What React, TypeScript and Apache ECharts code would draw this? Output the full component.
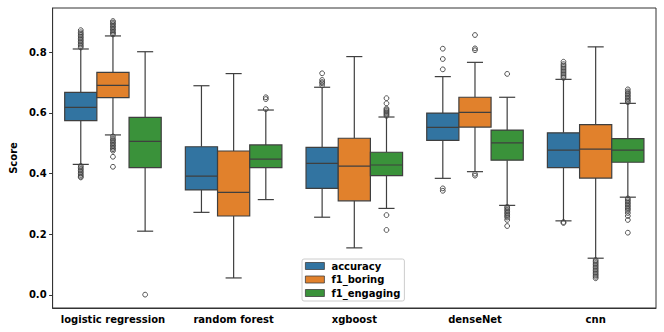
import React, { useEffect, useRef } from "react";
import * as echarts from "echarts";

const categories = ["logistic regression", "random forest", "xgboost", "denseNet", "cnn"];
const hues = ["accuracy", "f1_boring", "f1_engaging"];
const hueColors = ["#3274a1", "#e1812c", "#3a923a"];
const yTicks = [0, 0.2, 0.4, 0.6, 0.8];

// [lower whisker, q1, median, q3, upper whisker] per category
const accuracyStats = [
  [0.43, 0.574, 0.618, 0.667, 0.81],
  [0.272, 0.346, 0.391, 0.488, 0.689],
  [0.256, 0.351, 0.433, 0.486, 0.684],
  [0.384, 0.509, 0.552, 0.599, 0.719],
  [0.244, 0.419, 0.477, 0.534, 0.71],
];
const f1BoringStats = [
  [0.527, 0.65, 0.69, 0.733, 0.853],
  [0.056, 0.26, 0.338, 0.474, 0.729],
  [0.155, 0.31, 0.424, 0.516, 0.785],
  [0.406, 0.553, 0.601, 0.651, 0.766],
  [0.121, 0.385, 0.48, 0.561, 0.817],
];
const f1EngagingStats = [
  [0.21, 0.419, 0.506, 0.585, 0.801],
  [0.314, 0.419, 0.447, 0.494, 0.609],
  [0.285, 0.393, 0.428, 0.47, 0.586],
  [0.295, 0.444, 0.501, 0.543, 0.651],
  [0.322, 0.437, 0.477, 0.515, 0.631],
];

// outliers per category
const accuracyOutliers = [
  [0.815, 0.82, 0.825, 0.83, 0.835, 0.84, 0.845, 0.85, 0.855, 0.86, 0.865, 0.872, 0.425, 0.42, 0.415, 0.41, 0.405, 0.4, 0.395, 0.39, 0.387],
  [],
  [0.69, 0.697, 0.701, 0.708, 0.73],
  [0.743, 0.777, 0.811, 0.351, 0.343],
  [0.715, 0.72, 0.725, 0.73, 0.735, 0.74, 0.745, 0.75, 0.755, 0.76, 0.768, 0.24, 0.237],
];
const f1BoringOutliers = [
  [0.858, 0.862, 0.867, 0.872, 0.877, 0.882, 0.887, 0.892, 0.897, 0.902, 0.522, 0.515, 0.51, 0.505, 0.5, 0.495, 0.49, 0.485, 0.48, 0.475, 0.455, 0.422],
  [],
  [],
  [0.806, 0.812, 0.856, 0.399, 0.393],
  [0.115, 0.11, 0.105, 0.1, 0.095, 0.09, 0.085, 0.08, 0.075, 0.07, 0.065, 0.06, 0.055],
];
const f1EngagingOutliers = [
  [0.001],
  [0.612, 0.645, 0.651],
  [0.59, 0.594, 0.598, 0.602, 0.606, 0.61, 0.614, 0.631, 0.648, 0.263, 0.214],
  [0.728, 0.29, 0.285, 0.28, 0.275, 0.27, 0.265, 0.26, 0.255, 0.247, 0.227],
  [0.635, 0.64, 0.645, 0.65, 0.655, 0.66, 0.665, 0.67, 0.677, 0.318, 0.313, 0.308, 0.303, 0.298, 0.293, 0.288, 0.283, 0.278, 0.27, 0.26, 0.247, 0.205],
];

const allStats = [accuracyStats, f1BoringStats, f1EngagingStats];
const allOutliers = [accuracyOutliers, f1BoringOutliers, f1EngagingOutliers];

const LINE = "#3f3f3f";
const FONT = "DejaVu Sans";

export default function App() {
  const ref = useRef<HTMLDivElement>(null);
  useEffect(() => {
    if (!ref.current) return;
    const chart = echarts.init(ref.current, null, { renderer: "svg" });

    const boxSeries = hues.map((h, hi) => ({
      type: "custom",
      name: h,
      color: hueColors[hi],
      data: allStats[hi].map((s, ci) => [ci, ...s]),
      encode: { x: 0, y: [1, 2, 3, 4, 5] },
      z: 2,
      renderItem: (params: any, api: any) => {
        const cat = api.value(0);
        const center = api.coord([cat, 0])[0];
        const band = api.size([1, 0])[0];
        const boxW = (band * 0.8) / 3;
        const x0 = center - band * 0.4 + hi * boxW;
        const cx = x0 + boxW / 2;
        const yLow = api.coord([cat, api.value(1)])[1];
        const yQ1 = api.coord([cat, api.value(2)])[1];
        const yMed = api.coord([cat, api.value(3)])[1];
        const yQ3 = api.coord([cat, api.value(4)])[1];
        const yHigh = api.coord([cat, api.value(5)])[1];
        const ls = { stroke: LINE, lineWidth: 1.2 };
        const capHalf = boxW / 4;
        return {
          type: "group",
          children: [
            { type: "line", shape: { x1: cx, y1: yQ3, x2: cx, y2: yHigh }, style: ls },
            { type: "line", shape: { x1: cx, y1: yQ1, x2: cx, y2: yLow }, style: ls },
            { type: "line", shape: { x1: cx - capHalf, y1: yHigh, x2: cx + capHalf, y2: yHigh }, style: ls },
            { type: "line", shape: { x1: cx - capHalf, y1: yLow, x2: cx + capHalf, y2: yLow }, style: ls },
            {
              type: "rect",
              shape: { x: x0, y: yQ3, width: boxW, height: yQ1 - yQ3 },
              style: { fill: hueColors[hi], stroke: LINE, lineWidth: 1.2 },
            },
            { type: "line", shape: { x1: x0, y1: yMed, x2: x0 + boxW, y2: yMed }, style: ls },
          ],
        };
      },
    }));

    const outlierData: number[][] = [];
    allOutliers.forEach((perCat, hi) =>
      perCat.forEach((vals, ci) => vals.forEach((v) => outlierData.push([ci, hi, v])))
    );

    const outlierSeries = {
      type: "custom",
      name: "outliers",
      data: outlierData,
      encode: { x: 0, y: 2 },
      z: 3,
      renderItem: (params: any, api: any) => {
        const cat = api.value(0);
        const hi = api.value(1);
        const center = api.coord([cat, 0])[0];
        const band = api.size([1, 0])[0];
        const boxW = (band * 0.8) / 3;
        const cx = center - band * 0.4 + hi * boxW + boxW / 2;
        const cy = api.coord([cat, api.value(2)])[1];
        return {
          type: "circle",
          shape: { cx, cy, r: 2.4 },
          style: { fill: "none", stroke: LINE, lineWidth: 0.9 },
        };
      },
    };

    chart.setOption({
      animation: false,
      grid: {
        left: 43,
        right: 8,
        top: 8,
        bottom: 24,
        show: true,
        borderColor: "#333",
        borderWidth: 1,
      },
      legend: {
        data: hues,
        orient: "vertical",
        left: 302,
        top: 259,
        icon: "rect",
        itemWidth: 19,
        itemHeight: 7,
        itemGap: 3.5,
        padding: [2, 4, 3, 3],
        borderColor: "#cccccc",
        borderWidth: 1,
        borderRadius: 2,
        backgroundColor: "rgba(255,255,255,0.8)",
        itemStyle: { borderColor: LINE, borderWidth: 0.8 },
        textStyle: { fontFamily: FONT, fontWeight: "bold", fontSize: 10, color: "#000", padding: [0, 0, 0, 2] },
      },
      xAxis: {
        type: "category",
        data: categories,
        axisLine: { onZero: false, lineStyle: { color: "#333", width: 1 } },
        axisTick: { alignWithLabel: true, length: 3.5, lineStyle: { color: "#333" } },
        axisLabel: { interval: 0, fontFamily: FONT, fontWeight: "bold", fontSize: 10, color: "#000", margin: 6 },
        splitLine: { show: false },
      },
      yAxis: {
        type: "value",
        min: -0.043,
        max: 0.945,
        name: "Score",
        nameLocation: "middle",
        nameGap: 28,
        nameTextStyle: { fontFamily: FONT, fontWeight: "bold", fontSize: 10, color: "#000" },
        axisLine: { show: true, lineStyle: { color: "#333", width: 1 } },
        axisTick: { show: true, length: 3.5, customValues: yTicks, lineStyle: { color: "#333" } },
        axisLabel: {
          customValues: yTicks,
          fontFamily: FONT,
          fontWeight: "bold",
          fontSize: 10,
          color: "#000",
          margin: 6,
          formatter: (v: number) => v.toFixed(1),
        },
        splitLine: { show: false },
      },
      series: [...boxSeries, outlierSeries],
    });
    return () => chart.dispose();
  }, []);
  return <div ref={ref} style={{ width: 664, height: 332 }} />;
}

const _style = document.createElement("style");
_style.textContent = "body{margin:0}";
document.head.appendChild(_style);
